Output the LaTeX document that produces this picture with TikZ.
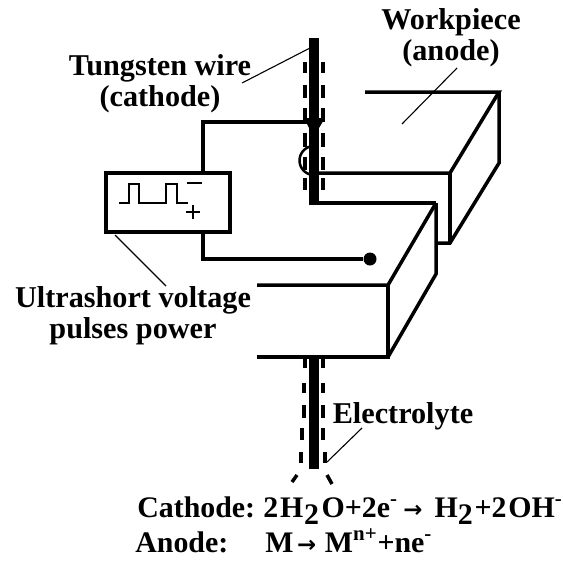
\documentclass[tikz,border=0pt]{standalone}
\usepackage{fontspec}
\setmainfont{Liberation Serif}
\newfontfamily\arrowfont{DejaVu Sans}
\tikzset{
  heavy/.style={line width=0.07cm},
  wall/.style={line width=0.07cm,line join=miter},
  leader/.style={line width=0.022cm},
  lbl/.style={font=\fontsize{17.2}{17.6}\selectfont\bfseries,inner sep=0pt,align=center},
  eqn/.style={font=\fontsize{17}{18}\selectfont\bfseries,inner sep=0pt,anchor=base west},
  dashline/.style={line width=0.07cm}
}
\newcommand{\lowtwo}{\raisebox{-4.5pt}{2}}
\newcommand{\smallto}{\mbox{\fontsize{13}{13}\arrowfont\bfseries →}}
\begin{document}
\begin{tikzpicture}[x=0.02cm,y=-0.02cm]
\useasboundingbox (0,0) rectangle (563,561);

% Marking texts
\node [lbl] (wirelabel) at (160,84) {Tungsten wire\\(cathode)};
\node [lbl] (anodelabel) at (451,37.5) {Workpiece\\(anode)};
\node [lbl] (powerlabel) at (133,316) {Ultrashort voltage\\pulses power};
\node [lbl] (electrolabel) at (403,416) {Electrolyte};
\node [eqn] (cathodeeq) at (137,517) {Cathode:};
\node [eqn] (cathodeform) at (263,517) {2\kern1pt H\kern0.5pt\lowtwo\kern1.5pt O+2e\textsuperscript{-}\kern3pt\smallto\kern7pt H\lowtwo\kern1pt +2\kern1pt OH\textsuperscript{-}};
\node [eqn] (anodeeq) at (135,552) {Anode:};
\node [eqn] (anodeform) at (265,552) {M\kern2pt\smallto\kern5pt M\textsuperscript{n+}+ne\textsuperscript{-}};

% Drawing lower block
\draw [wall] (257,285) -- (388,285) -- (436,203);
\draw [wall] (257,357) -- (388,357) -- (388,285);
\draw [wall] (388,357) -- (436,274) -- (436,203);

% Drawing workpiece top
\draw [wall] (365,92) -- (499,92) -- (450,173) -- (315,173);
\draw [wall] (499,92) -- (499,163) -- (450,243) -- (436,243);
\draw [wall] (450,173) -- (450,243);
\draw [wall] (315,203) -- (436,203);

% Drawing gap arc
\draw [line width=0.05cm] (314,175) arc (90:270:14.5);

% Drawing tungsten wire
\draw [line width=0.19cm] (314,38) -- (314,205);
\draw [line width=0.19cm] (314,357) -- (314,469);

% Drawing electrolyte dashes
\foreach \ya/\yb in {62/73,85/98,108/122,133/147,157/170,178/190}{
  \draw [dashline] (305,\ya) -- (305,\yb);
  \draw [dashline] (323,\ya) -- (323,\yb);
}
\foreach \ya/\yb in {383/393,405/418}{
  \draw [dashline] (304,\ya) -- (304,\yb);
  \draw [dashline] (323,\ya) -- (323,\yb);
}
\draw [dashline] (305,358) -- (305,368);
\draw [dashline] (323,358) -- (323,368);
\draw [dashline] (302,428) -- (302,440);
\draw [dashline] (323,428) -- (323,440);
\draw [dashline] (301,452) -- (301,463);
\draw [dashline] (325,452) -- (325,463);
\draw [dashline] (297,475) -- (292,482);
\draw [dashline] (327,475) -- (332,484);

% Drawing power supply
\node [draw,heavy,minimum width=0.02cm*124,minimum height=0.02cm*59,inner sep=0pt] (supply) at (168,202.5) {};
\coordinate (upcorner) at (203,122);
\coordinate (downcorner) at (203,259);
\node [circle,fill=black,inner sep=0pt,minimum size=0.02cm*13] (dot) at (370,259) {};
\draw [heavy] (203,173) -- (upcorner) -- (312,122);
\draw [heavy] (203,232) -- (downcorner) -- (dot);
\fill (304,118) -- (325,118) -- (319,128) -- (309,128) -- cycle;

% Drawing pulses
\draw [line width=0.04cm] (119,203) -- (129,203) -- (129,184) -- (139,184) -- (139,203) -- (166,203) -- (166,184) -- (177,184) -- (177,203) -- (188,203);
\draw [line width=0.04cm] (187,183) -- (202,183);
\draw [line width=0.04cm] (186,212) -- (200,212);
\draw [line width=0.04cm] (193,205) -- (193,219);

% Drawing leaders
\coordinate (wiretip) at (310,48);
\coordinate (wirefoot) at (242,83);
\draw [leader] (wirefoot) -- (wiretip);
\coordinate (anodetip) at (402,124);
\coordinate (anodefoot) at (457,68);
\draw [leader] (anodefoot) -- (anodetip);
\coordinate (supplytip) at (115,235);
\coordinate (supplyfoot) at (166,286);
\draw [leader] (supplyfoot) -- (supplytip);
\coordinate (electrotip) at (327,462);
\coordinate (electrofoot) at (362,428);
\draw [leader] (electrofoot) -- (electrotip);
\end{tikzpicture}
\end{document}
